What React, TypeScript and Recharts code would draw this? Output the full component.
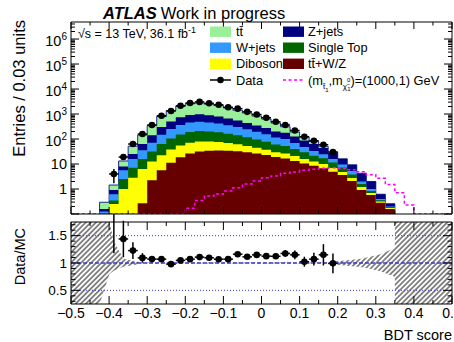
import React from 'react'
import { ComposedChart, Area, Line, Scatter, ErrorBar, XAxis, YAxis, ReferenceLine } from 'recharts'

const FONT = '"Liberation Sans", Arial, Helvetica, sans-serif'

// 40 bins of 0.025 from -0.5 to 0.5
const binLow = -0.5
const binWidth = 0.025
const nBins = 40

// background processes, entries per bin
const ttbar = [0, 0, 0, 0.137, 0.53, 5.26, 26.2, 81.4, 197.5, 492, 848, 1301, 1658, 1777, 1564, 1394, 1077, 863, 659, 485, 356, 237, 131, 64.5, 33.1, 16.3, 7.6, 2.7, 0.37, 0.21, 0.1, 0, 0, 0, 0, 0, 0, 0, 0, 0]
const zjets = [0, 0, 0, 0.032, 0.3, 2.32, 9.3, 27.6, 70.5, 154, 250, 378, 455, 487, 434, 377, 306, 248, 191.5, 152, 120, 84.7, 78, 56.8, 39.2, 30, 19.2, 11.7, 6.3, 3.87, 2.17, 1.0, 0.22, 0.057, 0, 0, 0, 0, 0, 0]
const wjets = [0, 0, 0, 0.076, 0.26, 3.11, 8.77, 19.7, 39.2, 84.9, 146, 212, 266.5, 281, 257.5, 230.8, 192.8, 160.7, 128, 99.5, 77.4, 54.5, 47.5, 29.4, 18.4, 11.7, 7.5, 4.3, 2.31, 1.45, 0.42, 0.17, 0.043, 0.014, 0, 0, 0, 0, 0, 0]
const singleTop = [0, 0, 0, 0.018, 0.1, 1.51, 4.26, 9.5, 19.0, 40.7, 66.7, 96, 119.7, 129.6, 120.1, 110.3, 93, 79.6, 65, 50.8, 40.4, 30.8, 26.2, 18.9, 13.7, 8.8, 7.0, 4.6, 2.45, 1.05, 0.38, 0.14, 0.039, 0.012, 0, 0, 0, 0, 0, 0]
const diboson = [0, 0, 0, 0.032, 0.25, 1.0, 2.79, 6.04, 10.4, 16.8, 26.8, 36.4, 44.5, 47.8, 45.5, 41.2, 35.3, 29.3, 23.0, 18.4, 14.3, 10.4, 9.7, 7.7, 5.3, 4.1, 3.24, 2.0, 1.16, 0.66, 0.29, 0.115, 0.034, 0.016, 0, 0, 0, 0, 0, 0]
const ttV = [0, 0, 0, 0, 0, 0, 0.03, 0.27, 2.24, 5.6, 11.2, 18.6, 26.3, 31.6, 33.9, 34.7, 33.9, 32.4, 29.5, 26.3, 22.9, 19.1, 16.6, 13.2, 10.5, 8.5, 6.76, 4.9, 3.63, 2.09, 0.91, 0.575, 0.28, 0.158, 0, 0, 0, 0, 0, 0]

// signal (m_stop, m_chi) = (1000, 1) GeV
const signal = [0, 0, 0, 0, 0, 0, 0, 0, 0, 0, 0, 0, 0.17, 0.35, 0.52, 0.63, 0.83, 1.12, 1.58, 2.09, 2.82, 3.31, 4.27, 4.79, 5.62, 6.17, 6.76, 7.08, 6.61, 5.89, 4.9, 3.72, 2.69, 1.51, 0.71, 0.23, 0, 0, 0, 0]

// data and stat. error
const dataCounts = [null, null, null, null, 4, 19, 63, 158, 363, 850, 1320, 2140, 2750, 3050, 2690, 2340, 1860, 1640, 1220, 955, 710, 490, 363, 219, 123, 85, 59, 30, null, null, null, null, null, null, null, null, null, null, null, null]
const dataErr = [null, null, null, null, 2.3, 4.4, 7.9, 12.6, 19, 29, 36, 46, 52, 55, 52, 48, 43, 40, 35, 31, 27, 22, 19, 15, 11, 9.2, 10, 5.5, null, null, null, null, null, null, null, null, null, null, null, null]

// MC stat. uncertainty band in the ratio panel
const bandX = [-0.5, -0.425, -0.399, -0.3875, -0.3625, -0.3375, -0.3125, 0.1625, 0.1875, 0.2125, 0.2375, 0.2625, 0.2875, 0.3125, 0.3375, 0.35, 0.35, 0.5]
const bandLo = [0.25, 0.25, 0.8, 0.86, 0.93, 0.96, 0.99, 0.99, 0.97, 0.96, 0.94, 0.92, 0.89, 0.85, 0.78, 0.75, 0.25, 0.25]
const bandHi = [1.75, 1.75, 1.75, 1.4, 1.08, 1.04, 1.01, 1.01, 1.03, 1.04, 1.06, 1.08, 1.12, 1.16, 1.24, 1.27, 1.75, 1.75]

const xTickLabels = [-0.5, -0.4, -0.3, -0.2, -0.1, 0, 0.1, 0.2, 0.3, 0.4, 0.5]
const ratioTickLabels = [0.5, 1, 1.5]
const decadeLabels = [-1, 0, 1, 2, 3, 4, 5, 6]

const Y_MIN = 0.1
const Y_MAX = 4.8e6
const FLOOR = 1e-4

const stack = [
  { name: 'tt\u0304+W/Z', values: ttV, color: '#660000' },
  { name: 'Diboson', values: diboson, color: '#ffff00' },
  { name: 'Single Top', values: singleTop, color: '#006600' },
  { name: 'W+jets', values: wjets, color: '#3399ff' },
  { name: 'Z+jets', values: zjets, color: '#000080' },
  { name: 'tt\u0304', values: ttbar, color: '#99f099' },
]

const total = ttbar.map((_, i) => stack.reduce((s, p) => s + p.values[i], 0))
const center = (i: number) => +(binLow + (i + 0.5) * binWidth).toFixed(5)

const edgeRows = Array.from({ length: nBins + 1 }, (_, i) => {
  const b = Math.min(i, nBins - 1)
  const row: any = { x: +(binLow + i * binWidth).toFixed(5) }
  let cum = 0
  stack.forEach((p, j) => {
    cum += p.values[b]
    row['s' + j] = Math.max(cum, FLOOR)
  })
  row.sig = Math.max(signal[b], Y_MIN)
  return row
})

const dataRows = dataCounts
  .map((n, i) => (n == null ? null : { x: center(i), y: n, ey: dataErr[i], ex: binWidth / 2 }))
  .filter(Boolean) as any[]

const ratioRows = dataCounts
  .map((n, i) => (n == null ? null : { x: center(i), y: n / total[i], ey: (dataErr[i] as number) / total[i], ex: binWidth / 2 }))
  .filter(Boolean) as any[]

const bandRows = bandX.map((x, i) => ({ x, band: [bandLo[i], bandHi[i]] }))

const xTicks: number[] = []
for (let i = 0; i <= 20; i++) xTicks.push(+(-0.5 + i * 0.05).toFixed(2))
const logTicks: number[] = []
decadeLabels.forEach((d) => {
  for (let m = 1; m < 10; m++) {
    const v = m * Math.pow(10, d)
    if (v >= Y_MIN && v <= Y_MAX) logTicks.push(v)
  }
})
const ratioTicks: number[] = []
for (let i = 3; i <= 17; i++) ratioTicks.push(+(i * 0.1).toFixed(1))

const isMajorX = (v: number) => xTickLabels.some((t) => Math.abs(t - v) < 1e-6)
const fmtX = (v: number) => (Math.abs(v) < 1e-9 ? '0' : (v < 0 ? '\u2212' : '') + Math.abs(v).toFixed(1))

function XTick(props: any) {
  const { x, y, payload, side, labels, major: majLen = 7 } = props
  const v = payload.value
  const major = isMajorX(v)
  const len = major ? majLen : majLen / 2
  const dir = side === 'top' ? 1 : -1
  return (
    <g>
      <line x1={x} x2={x} y1={y} y2={y + dir * len} stroke="#000" strokeWidth={1} />
      {labels && major ? (
        <text x={x} y={y + 13.5} textAnchor="middle" fontSize={14} fontFamily={FONT} fill="#000">
          {fmtX(v)}
        </text>
      ) : null}
    </g>
  )
}

function LogTick(props: any) {
  const { x, y, payload, side } = props
  const v = payload.value
  const lg = Math.log10(v)
  const e = Math.round(lg)
  const major = Math.abs(lg - e) < 1e-6
  const len = major ? 8 : 4
  const dir = side === 'left' ? 1 : -1
  let label: React.ReactNode = null
  if (side === 'left' && major && e >= 0) {
    if (e === 0 || e === 1) {
      label = (
        <text x={x - 4} y={y + 5} textAnchor="end" fontSize={14.5} fontFamily={FONT} fill="#000">
          {e === 0 ? '1' : '10'}
        </text>
      )
    } else {
      label = (
        <text x={x - 4} y={y + 7} textAnchor="end" fontSize={14.5} fontFamily={FONT} fill="#000">
          10
          <tspan dy={-6} fontSize={10}>
            {e}
          </tspan>
        </text>
      )
    }
  }
  return (
    <g>
      <line x1={x} x2={x + dir * len} y1={y} y2={y} stroke="#000" strokeWidth={1} />
      {label}
    </g>
  )
}

function RatioTick(props: any) {
  const { x, y, payload, side } = props
  const v = payload.value
  const major = ratioTickLabels.some((t) => Math.abs(t - v) < 1e-6)
  const len = major ? 9 : 4.5
  const dir = side === 'left' ? 1 : -1
  return (
    <g>
      <line x1={x} x2={x + dir * len} y1={y} y2={y} stroke="#000" strokeWidth={1} />
      {side === 'left' && major ? (
        <text x={x - 4} y={y + 4.7} textAnchor="end" fontSize={13.5} fontFamily={FONT} fill="#000">
          {String(v)}
        </text>
      ) : null}
    </g>
  )
}

const dot = (p: any) => <circle cx={p.cx} cy={p.cy} r={3.3} fill="#000" />

const legendCols = [
  [stack[5], stack[3], stack[1]],
  [stack[4], stack[2], stack[0]],
]
const rowY = [31.7, 47.7, 63.8]

const axisCommon = {
  tickLine: false,
  tickSize: 0,
  tickMargin: 0,
  interval: 0 as const,
  allowDataOverflow: true,
  axisLine: { stroke: '#000', strokeWidth: 1 },
}

export default function App() {
  return (
    <div style={{ position: 'absolute', left: 0, top: 0, width: 454, height: 342, background: '#fff' }}>
      <div style={{ position: 'absolute', left: 0, top: 0 }}>
        <ComposedChart width={454} height={220} data={edgeRows} margin={{ top: 21, right: 1, bottom: 5, left: 70 }}>
          <XAxis {...axisCommon} dataKey="x" type="number" domain={[-0.5, 0.5]} ticks={xTicks} height={1}
            tick={(p: any) => <XTick {...p} side="bottom" />} />
          <XAxis {...axisCommon} xAxisId="t" orientation="top" dataKey="x" type="number" domain={[-0.5, 0.5]} ticks={xTicks} height={1}
            tick={(p: any) => <XTick {...p} side="top" />} />
          <YAxis {...axisCommon} dataKey="y" type="number" scale="log" domain={[Y_MIN, Y_MAX]} ticks={logTicks} width={1}
            tick={(p: any) => <LogTick {...p} side="left" />} />
          <YAxis {...axisCommon} yAxisId="r" orientation="right" type="number" scale="log" domain={[Y_MIN, Y_MAX]} ticks={logTicks} width={1}
            tick={(p: any) => <LogTick {...p} side="right" />} />
          {stack
            .map((p, j) => (
              <Area key={p.name} dataKey={'s' + j} type="stepAfter" baseValue={Y_MIN} fill={p.color} fillOpacity={1}
                stroke={j === stack.length - 1 ? '#1c2a8c' : 'none'} strokeWidth={1} dot={false} activeDot={false} isAnimationActive={false} />
            ))
            .reverse()}
          <Line dataKey="sig" type="stepAfter" stroke="#ff00ff" strokeWidth={1.5} strokeDasharray="3 2.5" dot={false} activeDot={false} isAnimationActive={false} />
          <Scatter data={dataRows} dataKey="y" shape={dot} isAnimationActive={false}>
            <ErrorBar dataKey="ey" direction="y" width={0} stroke="#000" strokeWidth={1.5} />
            <ErrorBar dataKey="ex" direction="x" width={0} stroke="#000" strokeWidth={1.5} />
          </Scatter>
        </ComposedChart>
      </div>

      <div style={{ position: 'absolute', left: 0, top: 214 }}>
        <ComposedChart width={454} height={128} data={bandRows} margin={{ top: 7, right: 1, bottom: 37, left: 70 }}>
          <defs>
            <pattern id="hatch" patternUnits="userSpaceOnUse" width={3.6} height={3.6} patternTransform="rotate(45)">
              <line x1={1.8} y1={0} x2={1.8} y2={3.6} stroke="#000" strokeWidth={0.9} />
            </pattern>
          </defs>
          <XAxis {...axisCommon} dataKey="x" type="number" domain={[-0.5, 0.5]} ticks={xTicks} height={1}
            tick={(p: any) => <XTick {...p} side="bottom" labels major={8} />} />
          <XAxis {...axisCommon} xAxisId="t" orientation="top" dataKey="x" type="number" domain={[-0.5, 0.5]} ticks={xTicks} height={1}
            tick={(p: any) => <XTick {...p} side="top" major={8} />} />
          <YAxis {...axisCommon} dataKey="y" type="number" domain={[0.25, 1.75]} ticks={ratioTicks} width={1}
            tick={(p: any) => <RatioTick {...p} side="left" />} />
          <YAxis {...axisCommon} yAxisId="r" orientation="right" type="number" domain={[0.25, 1.75]} ticks={ratioTicks} width={1}
            tick={(p: any) => <RatioTick {...p} side="right" />} />
          <Area dataKey="band" type="linear" fill="url(#hatch)" fillOpacity={1} stroke="none" dot={false} activeDot={false} isAnimationActive={false} />
          <ReferenceLine y={1.5} stroke="#3b3bd0" strokeWidth={1} strokeDasharray="1 2" />
          <ReferenceLine y={0.5} stroke="#3b3bd0" strokeWidth={1} strokeDasharray="1 2" />
          <ReferenceLine y={1} stroke="#3b3bd0" strokeWidth={1.3} strokeDasharray="4 2" />
          <Scatter data={ratioRows} dataKey="y" shape={dot} isAnimationActive={false}>
            <ErrorBar dataKey="ey" direction="y" width={0} stroke="#000" strokeWidth={1.5} />
            <ErrorBar dataKey="ex" direction="x" width={0} stroke="#000" strokeWidth={1.5} />
          </Scatter>
        </ComposedChart>
      </div>

      <svg width={454} height={342} style={{ position: 'absolute', left: 0, top: 0, pointerEvents: 'none' }} fontFamily={FONT}>
        <text x={103} y={18.5} fontSize={16.5} fill="#000">
          <tspan fontWeight="bold" fontStyle="italic">ATLAS</tspan>
          <tspan dx={4}>Work in progress</tspan>
        </text>
        <text x={78} y={38} fontSize={12.5} fill="#000">
          {'\u221As = 13 TeV, 36.1 fb'}
          <tspan dy={-5} fontSize={9}>-1</tspan>
        </text>
        {legendCols.map((col, c) =>
          col.map((p, r) => (
            <g key={p.name}>
              <rect x={c === 0 ? 210 : 283} y={rowY[r] - 5.2} width={21} height={10.4} fill={p.color} />
              <text x={c === 0 ? 236 : 308} y={rowY[r] + 4.6} fontSize={12.8} fill="#000">{p.name}</text>
            </g>
          ))
        )}
        <line x1={210} x2={231} y1={80} y2={80} stroke="#000" strokeWidth={1.5} />
        <circle cx={220.5} cy={80} r={3.3} fill="#000" />
        <text x={236} y={84.6} fontSize={12.8} fill="#000">Data</text>
        <line x1={283} x2={304} y1={80} y2={80} stroke="#ff00ff" strokeWidth={1.5} strokeDasharray="3 2.5" />
        <text x={308} y={84.6} fontSize={12.8} fill="#000">
          (m
          <tspan dy={4} fontSize={8}>{'t\u0303'}</tspan>
          <tspan dy={3} fontSize={6}>1</tspan>
          <tspan dy={-7}>,m</tspan>
          <tspan dy={4} fontSize={8}>{'\u03C7\u0303'}</tspan>
          <tspan dy={-7} fontSize={6}>0</tspan>
          <tspan dx={-3} dy={9} fontSize={6}>1</tspan>
          <tspan dy={-6}>)=(1000,1) GeV</tspan>
        </text>
        <text transform="translate(25,20) rotate(-90)" textAnchor="end" fontSize={16.5} fill="#000">Entries / 0.03 units</text>
        <text transform="translate(25,228) rotate(-90)" textAnchor="end" fontSize={14.5} fill="#000">Data/MC</text>
        <text x={452} y={340} textAnchor="end" fontSize={14.5} fill="#000">BDT score</text>
      </svg>
    </div>
  )
}
